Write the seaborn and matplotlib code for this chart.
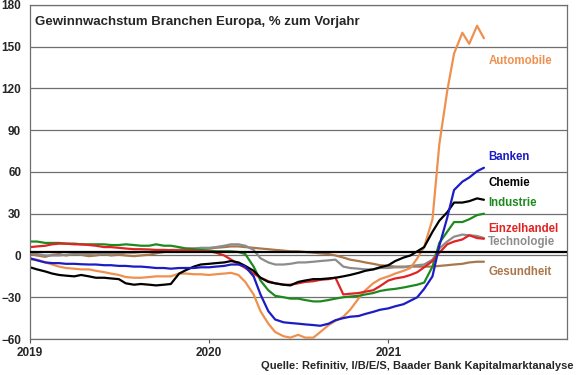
import pandas as pd
import numpy as np
import seaborn as sns
import matplotlib
matplotlib.use("Agg")
import matplotlib.pyplot as plt
import matplotlib.dates as mdates

# semi-monthly observations, Jan 2019 - Jul 2021 (% yoy earnings growth)
dates = pd.date_range("2019-01-01", periods=62, freq="SMS")

automobile = [-3, -3, -5, -6.5, -8, -9, -9.5, -10, -10, -11, -12, -13, -14, -15.5, -16, -16,
              -15.5, -15, -15, -15, -13, -13, -13.5, -13.5, -14, -13.5, -13, -12.5, -14, -19,
              -28, -40, -49, -55, -58, -59, -57, -59, -59, -55, -50, -47, -44, -39, -31, -25,
              -20, -17, -15, -13, -11, -9, -2, 6, 26, 80, 118, 145, 160, 152, 165, 156]
banken = [-2, -3.5, -5, -5.5, -5.5, -6, -6, -6.3, -6.5, -6.5, -7, -7, -7.5, -7.5, -8, -8,
          -8.5, -9, -9, -9.5, -9, -9, -9, -8.5, -8.5, -8, -7.5, -6.5, -6.5, -8, -15, -28,
          -40, -46, -48, -48.5, -49, -49.5, -50, -50.5, -49, -46.5, -45, -44, -43.5, -42,
          -40.5, -39, -38, -36.5, -35, -32.5, -30, -24, -15, 7, 27, 47, 53, 56, 60.5, 63]
chemie = [-8.5, -10, -11.5, -13, -14, -14.5, -15, -14, -15, -16, -16, -16.5, -17, -20, -21,
          -20.5, -21, -21.5, -21, -20.5, -13, -10.5, -8, -6.5, -6, -5.5, -5, -4, -5, -7.5,
          -11, -16, -19, -20, -21, -21.5, -19, -18, -17, -17, -16.5, -16, -15, -14, -12.5,
          -11, -10, -8.5, -7, -4, -1.5, 0, 3, 6, 17, 25, 31, 38, 38, 39, 41, 40]
industrie = [10, 10, 9, 9, 9, 8.5, 8.5, 8, 8, 8, 8, 7.5, 7.5, 8, 7.5, 7, 7, 8, 7, 7, 6, 5,
             4.5, 4, 3.5, 3, 3, 3, 2.5, 1, -8, -18, -25, -29, -30, -31, -31, -32, -33, -33,
             -32, -31, -30, -29.5, -29, -28, -27, -25.5, -24.5, -24, -23, -22, -21, -19.5,
             -8, 9, 17, 24, 24, 26, 29, 30]
einzelhandel = [6, 6.5, 7, 8, 8.5, 8.5, 8, 8, 7.5, 7, 6, 6, 5.5, 5, 4.5, 4.5, 4.3, 4, 4, 3.8,
                3.6, 3.6, 3.5, 3, 3, 2, 0, -3, -6, -9, -13, -16, -18.5, -20, -21, -21, -20,
                -19, -18.5, -17.5, -17, -16, -28, -27.5, -27, -26, -25, -22, -18, -16.5,
                -15.5, -14, -12, -8.5, -4, 2, 8, 10, 11.5, 14.5, 12.5, 12]
technologie = [2, 1, 0, 0, 0, 0.5, 1, 1, 1, 1.5, 1, 1.5, 1.5, 2, 2, 2.5, 2.5, 3, 3, 3.5, 4,
               4.5, 5, 5.5, 5.5, 6, 7, 8, 8, 7, 4, -2, -5, -6.5, -6.5, -6, -5, -5, -4.5, -4,
               -3.5, -3, -8, -9, -9.5, -10, -10, -9, -9, -8.5, -8.5, -7.5, -7, -6.5, -3, 5,
               10, 13.5, 15, 14.5, 14, 12.5]
gesundheit = [1, 0, -1, 0.5, 1, 0, 1, 0.5, -0.5, 0, 1, 0, 0.5, 0, -0.5, 0, 0.5, 1.5, 2.5, 4,
              4, 5, 5, 5, 5, 5.5, 6, 6.5, 6.5, 6, 5.5, 5, 4.5, 4, 3.5, 3, 3, 2.5, 2, 1.5, 1,
              0, -1.5, -3, -4, -5, -6, -7, -7.5, -8, -8, -8, -8, -8, -8, -7.5, -7, -6.5, -6,
              -5, -4.5, -4.5]

avg_line = 2.7

series = ["Automobile", "Banken", "Chemie", "Industrie", "Einzelhandel", "Technologie", "Gesundheit"]
colors = ["#EE914F", "#1C1CC4", "#000000", "#1E8A1E", "#E02424", "#8C8C8C", "#A9774A"]
# label y-positions (data units) for the right-hand annotations
label_y = [140, 71, 52, 38, 19, 10, -12]

df = pd.DataFrame({"Datum": dates, "Automobile": automobile, "Banken": banken,
                   "Chemie": chemie, "Industrie": industrie, "Einzelhandel": einzelhandel,
                   "Technologie": technologie, "Gesundheit": gesundheit})
long = df.melt(id_vars="Datum", var_name="Branche", value_name="Wert")

sns.set_style("white")
plt.rcParams["font.family"] = ["Liberation Sans", "DejaVu Sans"]

fig = plt.figure(figsize=(5.8, 3.75), dpi=100)
ax = fig.add_axes([0.052, 0.096, 0.926, 0.891])

for y in range(-60, 181, 30):
    ax.axhline(y, color="#6f6f6f", lw=0.9, zorder=0)

# draw in an order so the black/colour overlaps look like the original
order = ["Gesundheit", "Technologie", "Automobile", "Industrie", "Einzelhandel", "Chemie", "Banken"]
pal = dict(zip(series, colors))
for name in order:
    sns.lineplot(data=long[long["Branche"] == name], x="Datum", y="Wert", color=pal[name],
                 lw=1.6, ax=ax, legend=False)

ax.axhline(avg_line, color="black", lw=1.6, zorder=3)

ax.set_ylim(-60, 180)
ax.set_yticks(range(-60, 181, 30))
ax.set_xlim(pd.Timestamp("2019-01-01"), pd.Timestamp("2022-01-01"))
ax.set_xticks([pd.Timestamp("2019-01-01"), pd.Timestamp("2020-01-01"), pd.Timestamp("2021-01-01")])
ax.xaxis.set_major_formatter(mdates.DateFormatter("%Y"))
ax.set_xlabel("")
ax.set_ylabel("")
for s in ax.spines.values():
    s.set_color("#6f6f6f")
    s.set_linewidth(0.9)
ax.tick_params(axis="x", bottom=True, length=3, width=0.8, color="#555555", pad=3)
ax.tick_params(axis="y", left=False, pad=3)
for lab in ax.get_xticklabels() + ax.get_yticklabels():
    lab.set_fontweight("bold")
    lab.set_fontsize(8.5)

ax.text(0.009, 0.95, "Gewinnwachstum Branchen Europa, % zum Vorjahr", transform=ax.transAxes,
        fontsize=9.5, fontweight="bold", ha="left", va="center")

lx = pd.Timestamp("2021-07-24")
for name, c, yy in zip(series, colors, label_y):
    ax.text(lx, yy, name, color=c, fontsize=8.3, fontweight="bold", ha="left", va="center")

fig.text(0.988, 0.025, "Quelle: Refinitiv, I/B/E/S, Baader Bank Kapitalmarktanalyse",
         ha="right", va="center", fontsize=8, fontweight="bold")

fig.savefig("out.png", dpi=100)
